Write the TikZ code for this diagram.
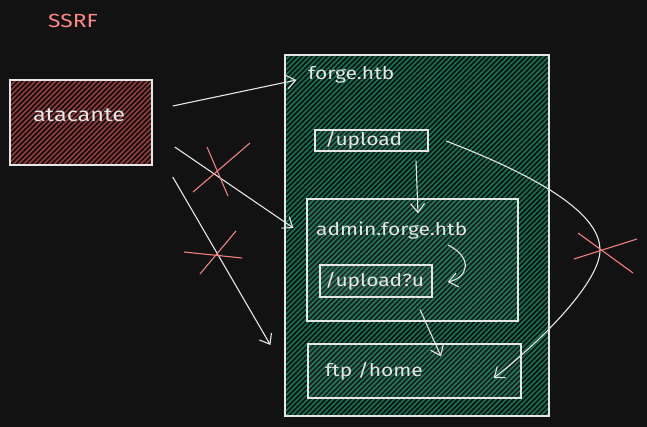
\documentclass[tikz,border=0pt]{standalone}
\usepackage{fontspec}
\setmainfont{Fira Sans}[FakeStretch=1.2]
\usetikzlibrary{arrows.meta,patterns.meta}
\definecolor{bg}{HTML}{121212}
\definecolor{hgreen}{HTML}{0F7A55}
\definecolor{hred}{HTML}{A03C3C}
\definecolor{ink}{HTML}{E6E6E6}
\definecolor{ssrfred}{HTML}{FF8787}
\definecolor{crossred}{HTML}{F08080}
\begin{document}
\begin{tikzpicture}[x=1pt,y=-1pt,
  box/.style={draw=ink, line width=1.2pt, inner sep=0, rectangle},
  greenfill/.style={pattern={Lines[angle=45,distance=3.6pt,line width=1.5pt]}, pattern color=hgreen},
  redfill/.style={pattern={Lines[angle=45,distance=3.6pt,line width=1.5pt]}, pattern color=hred},
  innerfill/.style={fill=white, fill opacity=0.05},
  lbl/.style={text=ink, font=\fontsize{17.5}{17.5}\selectfont, anchor=west, inner sep=0},
  conn/.style={draw=ink, line width=1.1pt, -{Straight Barb[length=9pt,width=14pt,line width=1.1pt]}},
  nogo/.style={draw=crossred, line width=1.1pt}]
\fill[bg] (0,0) rectangle (647,427);
\useasboundingbox (0,0) rectangle (647,427);

\node[text=ssrfred, font=\fontsize{19}{19}\selectfont, inner sep=0] (ssrf) at (73,21) {SSRF};

\node[box, redfill, minimum width=142pt, minimum height=85pt] (atk) at (81,122.5) {};
\node[text=ink, font=\fontsize{19.5}{19.5}\selectfont, inner sep=0] (atklbl) at (79,115) {atacante};

\node[box, greenfill, minimum width=264pt, minimum height=361pt] (forge) at (417,235.5) {};
\node[lbl] (forgelbl) at (308,75) {forge.htb};

\node[box, innerfill, minimum width=113pt, minimum height=21pt] (upload) at (371.5,140.5) {};
\node[lbl] (uploadlbl) at (325,140) {/upload};

\node[box, innerfill, minimum width=211pt, minimum height=122pt] (admin) at (412.5,260) {};
\node[lbl] (adminlbl) at (316,231) {admin.forge.htb};

\node[box, innerfill, minimum width=112pt, minimum height=32pt] (uploadu) at (376,281) {};
\node[lbl] (uploadulbl) at (325,281) {/upload?u};

\node[box, innerfill, minimum width=213pt, minimum height=54pt] (ftp) at (414.5,371) {};
\node[lbl] (ftplbl) at (325,371) {ftp /home};

% connector end points
\coordinate (a1s) at ([shift={(20,-16.5)}]atk.east);
\coordinate (a1e) at ([shift={(12,-155.5)}]forge.west);
\coordinate (a2s) at ([shift={(22,24.5)}]atk.east);
\coordinate (a2e) at ([shift={(-13,-32)}]admin.west);
\coordinate (a3s) at ([shift={(20,54.5)}]atk.east);
\coordinate (a3e) at ([shift={(-37,-26)}]ftp.west);
\coordinate (a4s) at ([shift={(44.5,9)}]upload.south);
\coordinate (a4e) at ([shift={(5.5,15)}]admin.north);
\coordinate (a5s) at ([shift={(35.5,-15)}]admin.center);
\coordinate (a5e) at ([shift={(15,1)}]uploadu.east);
\coordinate (a6s) at ([shift={(44,12)}]uploadu.south);
\coordinate (a6e) at ([shift={(26.5,13)}]ftp.north);
\coordinate (a7s) at ([shift={(17.5,0.5)}]upload.east);
\coordinate (a7e) at ([shift={(-28,7)}]ftp.east);

\draw[conn] (a1s) -- (a1e);
\draw[conn] (a2s) -- (a2e);
\draw[conn] (a3s) -- (a3e);
\draw[conn] (a4s) -- (a4e);
\draw[conn] (a5s) .. controls +(26,13) and +(20,-4) .. (a5e);
\draw[conn] (a6s) -- (a6e);
\draw[conn] (a7s) .. controls +(114,44) and +(0,-30) .. (600,250) .. controls +(0,35) and +(37,-28) .. (a7e);

% crosses
\draw[nogo] (207,147) -- (228,196);
\draw[nogo] (250,143) -- (193,192);
\draw[nogo] (184,252) -- (242,258);
\draw[nogo] (236,231) -- (200,274);
\draw[nogo] (578,233) -- (633,273);
\draw[nogo] (574,259) -- (637,239);
\end{tikzpicture}
\end{document}
